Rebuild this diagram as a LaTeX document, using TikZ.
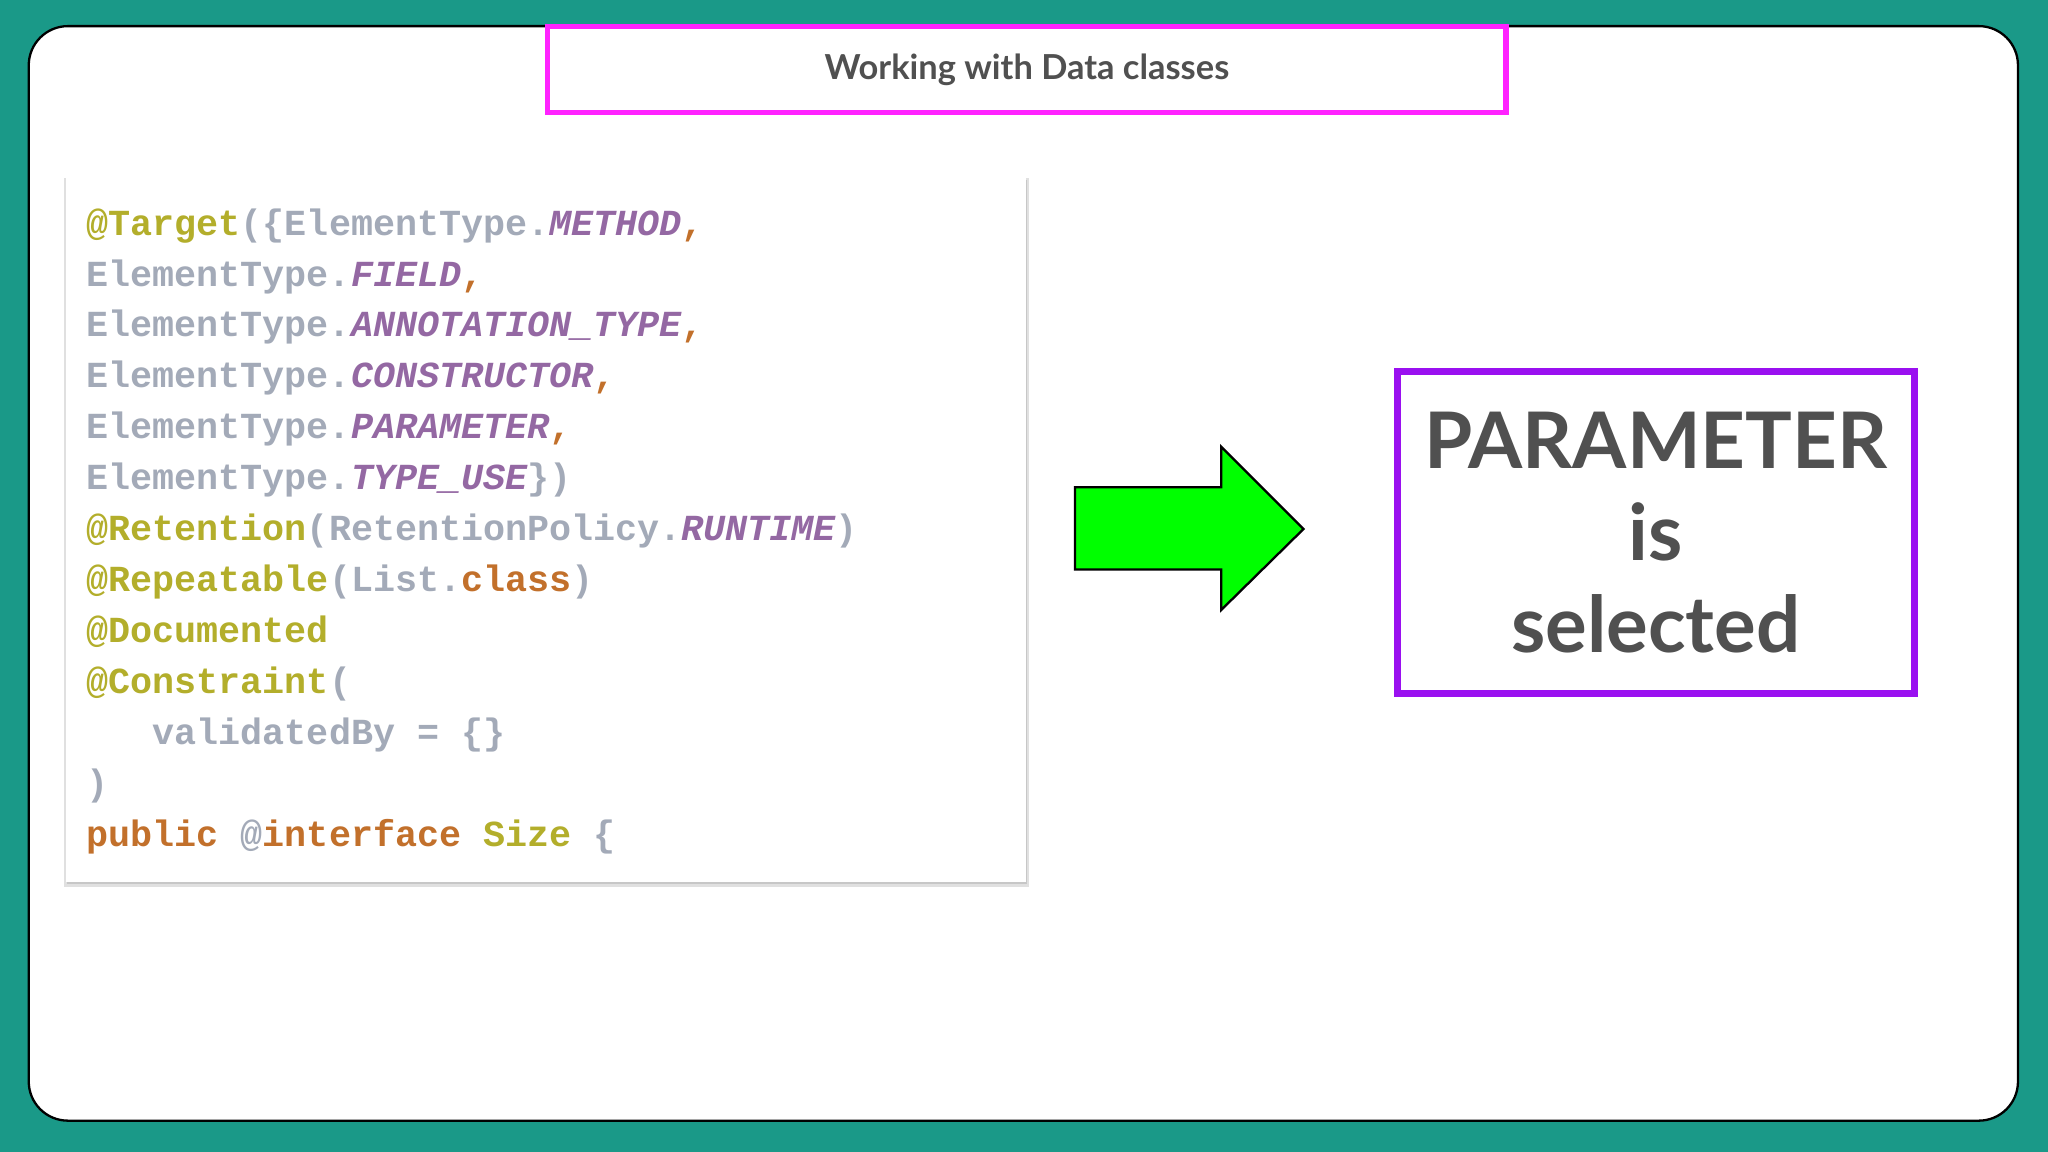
\documentclass[tikz,border=0pt]{standalone}
\usepackage{fontspec}
\setmainfont{Lato}
\newfontfamily\codefont{Liberation Mono}
\definecolor{teal}{HTML}{1A9988}
\definecolor{ann}{HTML}{B3AE2B}
\definecolor{cg}{HTML}{A3AAB8}
\definecolor{cp}{HTML}{9468A3}
\definecolor{co}{HTML}{C2702B}
\definecolor{mag}{HTML}{FF22FF}
\definecolor{pur}{HTML}{9A10F0}
\definecolor{dg}{HTML}{505050}
\newcommand{\A}[1]{\textcolor{ann}{\bfseries #1}}
\newcommand{\G}[1]{\textcolor{cg}{\bfseries #1}}
\newcommand{\PI}[1]{\textcolor{cp}{\bfseries\itshape #1}}
\newcommand{\Or}[1]{\textcolor{co}{\bfseries #1}}
\begin{document}
\begin{tikzpicture}[x=0.02cm,y=-0.02cm,
  code/.style={anchor=base west,inner sep=0,font=\codefont\fontsize{16}{18}\selectfont}]
\fill[teal] (0,0) rectangle (1568,882);
\useasboundingbox (0,0) rectangle (1568,882);
\draw[black,line width=1pt,fill=white,rounded corners=0.6cm] (22,20) rectangle (1545,858);
% title
\fill[black!12] (419,21) rectangle (1155,88);
\node[draw=mag,line width=2.5pt,fill=white,minimum width=734*0.02cm,minimum height=66*0.02cm,anchor=north west] (title) at (417,18) {};
\node[text=dg,font=\bfseries\fontsize{15}{18}\selectfont] (tt) at (title.center) {Working with Data classes};
% code box
\fill[black!12] (49,136) rectangle (788,679);
\fill[black!22] (51,138) rectangle (786,677);
\node[fill=white,minimum width=735*0.02cm,minimum height=539*0.02cm,anchor=north west,inner sep=0] (codebox) at (50,136) {};
\node[code] (l1) at (66,180) {\A{@Target}\G{(\{ElementType.}\PI{METHOD}\Or{,}};
\node[code] (l2) at (66,219) {\G{ElementType.}\PI{FIELD}\Or{,}};
\node[code] (l3) at (66,258) {\G{ElementType.}\PI{ANNOTATION\_TYPE}\Or{,}};
\node[code] (l4) at (66,297) {\G{ElementType.}\PI{CONSTRUCTOR}\Or{,}};
\node[code] (l5) at (66,336) {\G{ElementType.}\PI{PARAMETER}\Or{,}};
\node[code] (l6) at (66,375) {\G{ElementType.}\PI{TYPE\_USE}\G{\})}};
\node[code] (l7) at (66,414) {\A{@Retention}\G{(RetentionPolicy.}\PI{RUNTIME}\G{)}};
\node[code] (l8) at (66,453) {\A{@Repeatable}\G{(List.}\Or{class}\G{)}};
\node[code] (l9) at (66,492) {\A{@Documented}};
\node[code] (l10) at (66,531) {\A{@Constraint}\G{(}};
\node[code] (l11) at (66,570) {\G{\ \ \ validatedBy = \{\}}};
\node[code] (l12) at (66,609) {\G{)}};
\node[code] (l13) at (66,648) {\Or{public} \G{@}\Or{interface} \A{Size} \G{\{}};
% arrow
\draw[black,line width=1pt,fill=green,line join=miter] (823,373) -- (935,373) -- (935,342) -- (998,405) -- (935,467) -- (935,436) -- (823,436) -- cycle;
% result box
\fill[black!15] (1069,285) rectangle (1467,532);
\node[draw=pur,line width=3pt,fill=white,minimum width=396*0.02cm,minimum height=246*0.02cm,anchor=north west] (res) at (1067,282) {};
\node[text=dg,font=\bfseries\fontsize{34}{40}\selectfont,align=center] (rt) at (res.center) {PARAMETER\\is\\selected};
\end{tikzpicture}
\end{document}
